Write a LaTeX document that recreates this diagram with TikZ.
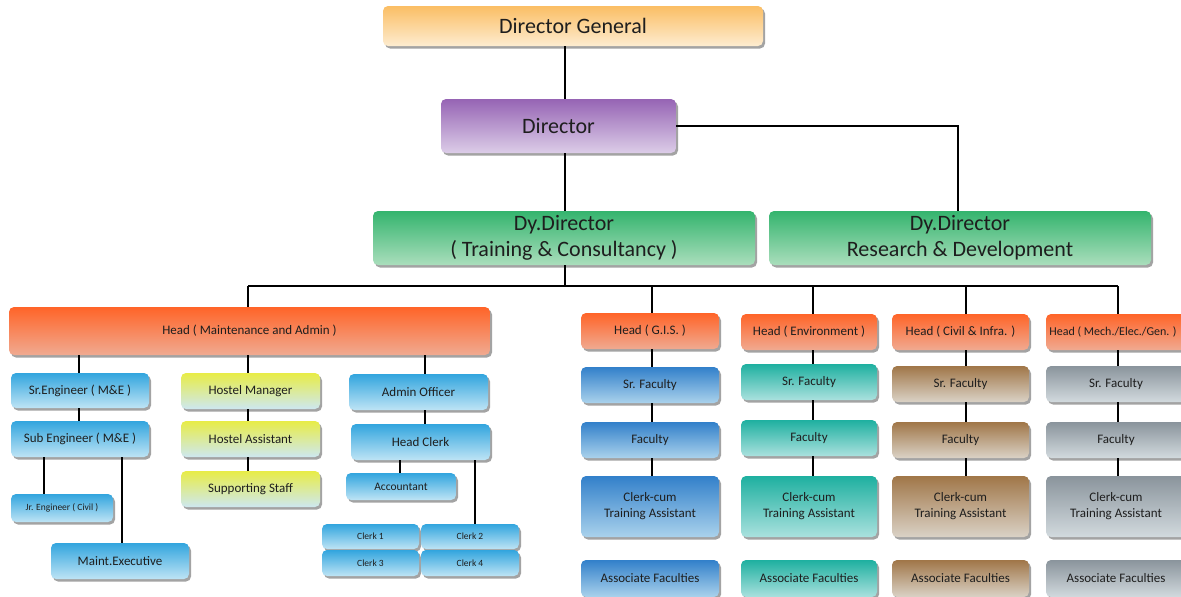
\documentclass[tikz,border=0pt]{standalone}
\usepackage{fontspec}
\setmainfont{Carlito}
\usetikzlibrary{shadows,calc}
\definecolor{txt}{HTML}{1E1E1E}
\tikzset{
  bx/.style={rounded corners=5pt, inner sep=0pt, align=center, text=txt,
     drop shadow={shadow xshift=2pt, shadow yshift=-2.5pt, fill=black!45, opacity=.8}},
  dgS/.style={bx, top color={rgb,255:red,251;green,190;blue,100}, bottom color={rgb,255:red,253;green,236;blue,208}, font=\fontsize{22}{24}\selectfont},
  dirS/.style={bx, top color={rgb,255:red,150;green,100;blue,180}, bottom color={rgb,255:red,220;green,205;blue,232}, font=\fontsize{22}{24}\selectfont},
  dyS/.style={bx, top color={rgb,255:red,52;green,180;blue,110}, bottom color={rgb,255:red,170;green,222;blue,188}, font=\fontsize{22}{26}\selectfont},
  headS/.style={bx, top color={rgb,255:red,255;green,100;blue,40}, bottom color={rgb,255:red,240;green,170;blue,145}, font=\fontsize{13}{15}\selectfont},
  ltS/.style={bx, top color={rgb,255:red,50;green,165;blue,222}, bottom color={rgb,255:red,190;green,228;blue,245}, font=\fontsize{13}{15}\selectfont},
  ylS/.style={bx, top color={rgb,255:red,232;green,236;blue,70}, bottom color={rgb,255:red,205;green,232;blue,240}, font=\fontsize{13}{15}\selectfont},
  gisS/.style={bx, top color={rgb,255:red,50;green,128;blue,202}, bottom color={rgb,255:red,170;green,210;blue,236}, font=\fontsize{13}{16}\selectfont},
  envS/.style={bx, top color={rgb,255:red,30;green,176;blue,160}, bottom color={rgb,255:red,170;green,225;blue,222}, font=\fontsize{13}{16}\selectfont},
  civS/.style={bx, top color={rgb,255:red,160;green,118;blue,72}, bottom color={rgb,255:red,218;green,210;blue,198}, font=\fontsize{13}{16}\selectfont},
  mecS/.style={bx, top color={rgb,255:red,138;green,148;blue,156}, bottom color={rgb,255:red,210;green,218;blue,222}, font=\fontsize{13}{16}\selectfont},
  smallS/.style={font=\fontsize{9.5}{11}\selectfont},
  ln/.style={line width=2.2pt, black},
}
\newcommand\bx[7]{\node[#6, minimum width={#4-#2}, minimum height={#5-#3}] (#1) at ({(#2+#4)/2},{(#3+#5)/2}) {#7};}
\begin{document}
\begin{tikzpicture}[x=1pt,y=-1pt]
\useasboundingbox (0,0) rectangle (1181,597);
\clip (0,0) rectangle (1181,597);
\fill[white] (0,0) rectangle (1181,597);
\coordinate (bus) at (565,286);
% top boxes
\bx{dg}{383}{6}{763}{46}{dgS}{Director General}
\bx{dir}{441}{99}{676}{153}{dirS}{Director}
\bx{dyt}{373}{211}{755}{265}{dyS}{Dy.Director\\( Training \& Consultancy )}
\bx{dyr}{769}{211}{1151}{265}{dyS}{Dy.Director\\Research \& Development}
\draw[ln] (bus |- dg.south) -- (bus |- dir.north);
\draw[ln] (bus |- dir.south) -- (bus |- dyt.north);
\draw[ln] (dir.east) -| ([xshift=-2pt]dyr.north);
\draw[ln] (bus |- dyt.south) -- (bus);
% heads
\bx{hm}{9}{307}{490}{355}{headS}{Head ( Maintenance and Admin )}
\bx{hg}{581}{313}{719}{349}{headS}{Head ( G.I.S. )}
\bx{he}{741}{314}{877}{350}{headS}{Head ( Environment )}
\bx{hc}{892}{314}{1029}{350}{headS}{Head ( Civil \& Infra. )}
\bx{hx}{1046}{314}{1186}{350}{headS,font=\fontsize{12}{14}\selectfont}{\hspace*{-6pt}Head ( Mech./Elec./Gen. )}
\coordinate (bL) at (248,286);
\coordinate (bR) at (1118,286);
\draw[ln] (bL) -- (bR);
\draw[ln] (bL) -- (bL |- hm.north);
\coordinate (cg) at (652,286);
\coordinate (ce) at (813,286);
\coordinate (cc) at (966,286);
\draw[ln] (cg) -- (cg |- hg.north);
\draw[ln] (ce) -- (ce |- he.north);
\draw[ln] (cc) -- (cc |- hc.north);
\draw[ln] (bR) -- (bR |- hx.north);
% column boxes
\bx{g1}{581}{367}{719}{403}{gisS}{Sr. Faculty}
\bx{g2}{581}{422}{719}{458}{gisS}{Faculty}
\bx{g3}{581}{476}{719}{537}{gisS}{Clerk-cum\\Training Assistant}
\bx{g4}{581}{560}{719}{597}{gisS}{Associate Faculties}
\bx{e1}{741}{364}{877}{400}{envS}{Sr. Faculty}
\bx{e2}{741}{420}{877}{456}{envS}{Faculty}
\bx{e3}{741}{476}{877}{537}{envS}{Clerk-cum\\Training Assistant}
\bx{e4}{741}{560}{877}{597}{envS}{Associate Faculties}
\bx{c1}{892}{366}{1029}{402}{civS}{Sr. Faculty}
\bx{c2}{892}{422}{1029}{458}{civS}{Faculty}
\bx{c3}{892}{476}{1029}{537}{civS}{Clerk-cum\\Training Assistant}
\bx{c4}{892}{560}{1029}{597}{civS}{Associate Faculties}
\bx{x1}{1046}{366}{1186}{402}{mecS}{Sr. Faculty}
\bx{x2}{1046}{422}{1186}{458}{mecS}{Faculty}
\bx{x3}{1046}{476}{1186}{537}{mecS}{Clerk-cum\\Training Assistant}
\bx{x4}{1046}{560}{1186}{597}{mecS}{Associate Faculties}
\foreach \a/\b in {hg/g1,g1/g2,g2/g3}{\draw[ln] (cg |- \a.south) -- (cg |- \b.north);}
\foreach \a/\b in {he/e1,e1/e2,e2/e3}{\draw[ln] (ce |- \a.south) -- (ce |- \b.north);}
\foreach \a/\b in {hc/c1,c1/c2,c2/c3}{\draw[ln] (cc |- \a.south) -- (cc |- \b.north);}
\foreach \a/\b in {hx/x1,x1/x2,x2/x3}{\draw[ln] (bR |- \a.south) -- (bR |- \b.north);}
% left group
\bx{se}{11}{373}{149}{408}{ltS}{Sr.Engineer ( M\&E )}
\bx{sb}{11}{421}{149}{457}{ltS}{Sub Engineer ( M\&E )}
\bx{jr}{11}{494}{113}{522}{ltS,smallS}{Jr. Engineer ( Civil )}
\bx{me}{51}{543}{189}{579}{ltS}{Maint.Executive}
\bx{hmg}{181}{373}{320}{409}{ylS}{Hostel Manager}
\bx{has}{181}{421}{320}{457}{ylS}{Hostel Assistant}
\bx{sst}{181}{471}{320}{507}{ylS}{Supporting Staff}
\bx{ao}{349}{374}{488}{410}{ltS}{Admin Officer}
\bx{hcl}{351}{424}{490}{460}{ltS}{Head Clerk}
\bx{acc}{346}{473}{456}{500}{ltS,font=\fontsize{11.5}{13}\selectfont}{Accountant}
\bx{k1}{322}{524}{419}{549}{ltS,smallS}{Clerk 1}
\bx{k2}{421}{524}{519}{549}{ltS,smallS}{Clerk 2}
\bx{k3}{322}{550}{419}{576}{ltS,smallS}{Clerk 3}
\bx{k4}{421}{550}{519}{576}{ltS,smallS}{Clerk 4}
\coordinate (lse) at (79,355);
\coordinate (lao) at (425,355);
\coordinate (ljr) at (44,457);
\coordinate (lme) at (122,457);
\coordinate (lac) at (400,460);
\coordinate (lk2) at (475,460);
\draw[ln] (lse) -- (lse |- se.north);
\draw[ln] (lse |- se.south) -- (lse |- sb.north);
\draw[ln] (lao) -- (lao |- ao.north);
\draw[ln] (lao |- ao.south) -- (lao |- hcl.north);
\draw[ln] (bL |- hm.south) -- (bL |- hmg.north);
\draw[ln] (bL |- hmg.south) -- (bL |- has.north);
\draw[ln] (bL |- has.south) -- (bL |- sst.north);
\draw[ln] (ljr |- sb.south) -- (ljr |- jr.north);
\draw[ln] (lme |- sb.south) -- (lme |- me.north);
\draw[ln] (lac |- hcl.south) -- (lac |- acc.north);
\draw[ln] (lk2 |- hcl.south) -- (lk2 |- k2.north);
\end{tikzpicture}
\end{document}
